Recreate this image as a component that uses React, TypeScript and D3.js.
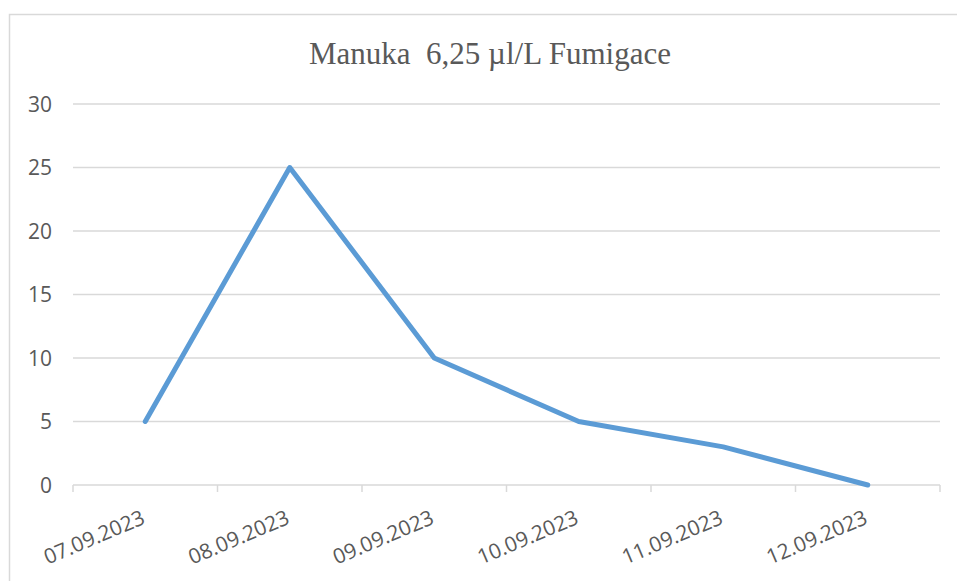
import React from "react";
import * as d3 from "d3";

const categories = ["07.09.2023", "08.09.2023", "09.09.2023", "10.09.2023", "11.09.2023", "12.09.2023"];
const values = [5, 25, 10, 5, 3, 0];
const yTicks = [0, 5, 10, 15, 20, 25, 30];
const title = "Manuka  6,25 µl/L Fumigace";

export default function App() {
  const W = 957, H = 581;
  const left = 73, right = 940, top = 104, bottom = 485;
  const x = d3.scaleBand<string>().domain(categories).range([left, right]).padding(0);
  const y = d3.scaleLinear().domain([0, 30]).range([bottom, top]);
  const line = d3.line<number>()
    .x((_, i) => (x(categories[i]) as number) + x.bandwidth() / 2)
    .y((d) => y(d));
  const boundaries = [...categories.map((c) => x(c) as number), right];
  const font = "'Open Sans', sans-serif";
  return (
    <svg width={W} height={H} style={{ position: "absolute", left: 0, top: 0 }}>
      <rect x={0} y={0} width={W} height={H} fill="#fff" />
      <rect x={9.5} y={14.5} width={W + 20} height={H + 20} fill="#fff" stroke="#d9d9d9" strokeWidth={1.5} />
      <text x={490} y={64} textAnchor="middle" fontFamily="'Liberation Serif', 'Times New Roman', serif" fontSize={31} fill="#595959" style={{ whiteSpace: "pre" }} xmlSpace="preserve">{title}</text>
      {yTicks.map((t) => (
        <g key={t}>
          <line x1={left} x2={right} y1={y(t)} y2={y(t)} stroke="#d9d9d9" strokeWidth={1.5} />
          <text x={52} y={y(t)} dy="0.36em" textAnchor="end" fontFamily={font} fontSize={21} fill="#595959">{t}</text>
        </g>
      ))}
      {boundaries.map((b, i) => (
        <line key={i} x1={b} x2={b} y1={bottom} y2={bottom + 7} stroke="#d9d9d9" strokeWidth={1.5} />
      ))}
      {categories.map((c) => {
        const cx = (x(c) as number) + x.bandwidth() / 2;
        return (
          <text key={c} transform={`translate(${cx + 1},${bottom + 38}) rotate(-23)`} textAnchor="end" fontFamily={font} fontSize={21} fill="#595959">{c}</text>
        );
      })}
      <path d={line(values) || ""} fill="none" stroke="#5B9BD5" strokeWidth={5} strokeLinejoin="round" strokeLinecap="round" />
    </svg>
  );
}
